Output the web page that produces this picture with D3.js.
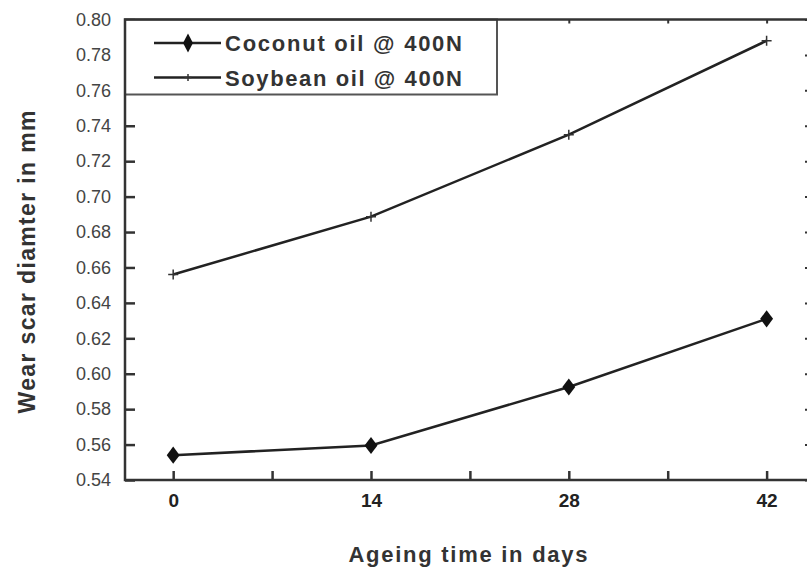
<!DOCTYPE html>
<meta charset="utf-8">
<head>
<style>
  body { margin: 0; background: #fff; }
  text { font-family: "Liberation Sans", Arial, sans-serif; }
</style>
</head>
<script src="https://d3js.org/d3.v7.min.js"></script>
<body>
<div id="my_dataviz"></div>
<script>
// data
var days = [0, 14, 28, 42];
var coconut = [0.554, 0.5595, 0.5925, 0.631];
var soybean = [0.656, 0.6887, 0.735, 0.788];
var xTicks = [0, 7, 14, 21, 28, 35, 42];
var xLabels = [0, 14, 28, 42];
var yTicks = [0.54, 0.56, 0.58, 0.60, 0.62, 0.64, 0.66, 0.68, 0.70, 0.72, 0.74, 0.76, 0.78, 0.80];
var seriesNames = ["Coconut oil @ 400N", "Soybean oil @ 400N"];

var W = 807, H = 569;
var margin = {top: 19.5, right: -2, bottom: 89, left: 125},
    width = W - margin.left - margin.right,
    height = H - margin.top - margin.bottom;

var svg = d3.select("#my_dataviz")
  .append("svg")
    .attr("width", W)
    .attr("height", H);

var g = svg.append("g")
    .attr("transform", "translate(" + margin.left + "," + margin.top + ")");

var x = d3.scaleLinear().domain([-3.41, 45.0]).range([0, width]);
var y = d3.scaleLinear().domain([0.54, 0.80]).range([height, 0]);

// bottom axis - ticks inward
var xAxis = g.append("g")
  .attr("transform", "translate(0," + height + ")")
  .call(d3.axisBottom(x).tickValues(xTicks).tickSizeInner(-9).tickSizeOuter(0)
        .tickFormat(function(d) { return xLabels.indexOf(d) >= 0 ? d : ""; }));
xAxis.select(".domain").remove();
xAxis.selectAll("line").attr("stroke", "#333").attr("stroke-width", 2.5);
xAxis.selectAll("text")
  .attr("y", 14).attr("font-size", 19).attr("font-weight", "bold")
  .attr("fill", "#222").style("font-family", "Liberation Sans, Arial");

// top axis - small ticks
var xTop = g.append("g")
  .call(d3.axisTop(x).tickValues(xTicks).tickSizeInner(-4).tickSizeOuter(0).tickFormat(""));
xTop.select(".domain").remove();
xTop.selectAll("line").attr("stroke", "#333").attr("stroke-width", 2);

// left axis
var yAxis = g.append("g")
  .call(d3.axisLeft(y).tickValues(yTicks).tickSizeInner(-10).tickSizeOuter(0)
        .tickFormat(d3.format(".2f")));
yAxis.select(".domain").remove();
yAxis.selectAll("line").attr("stroke", "#333").attr("stroke-width", 2.5);
yAxis.selectAll("text")
  .attr("x", -14).attr("font-size", 18).attr("fill", "#444")
  .style("font-family", "Liberation Sans, Arial");

// right axis - small ticks
var yRight = g.append("g")
  .attr("transform", "translate(" + width + ",0)")
  .call(d3.axisRight(y).tickValues(yTicks).tickSizeInner(-4).tickSizeOuter(0).tickFormat(""));
yRight.select(".domain").remove();
yRight.selectAll("line").attr("stroke", "#333").attr("stroke-width", 2);

// lines
var line = d3.line()
  .x(function(d) { return x(d[0]); })
  .y(function(d) { return y(d[1]); });

var cocoPts = days.map(function(d, i) { return [d, coconut[i]]; });
var soyPts = days.map(function(d, i) { return [d, soybean[i]]; });

g.append("path").datum(cocoPts).attr("d", line)
  .attr("fill", "none").attr("stroke", "#222").attr("stroke-width", 2.5);
g.append("path").datum(soyPts).attr("d", line)
  .attr("fill", "none").attr("stroke", "#222").attr("stroke-width", 2.5);

var diamond = d3.symbol().type(d3.symbolDiamond).size(85);
g.selectAll(".dia").data(cocoPts).enter().append("path")
  .attr("class", "dia")
  .attr("d", diamond)
  .attr("transform", function(d) { return "translate(" + x(d[0]) + "," + y(d[1]) + ") scale(1.3,1)"; })
  .attr("fill", "#111");

function plus(sel, cx, cy, s) {
  sel.append("path")
    .attr("d", "M" + (cx - s) + "," + cy + "H" + (cx + s) + "M" + cx + "," + (cy - s) + "V" + (cy + s))
    .attr("stroke", "#333").attr("stroke-width", 1.5).attr("fill", "none");
}
soyPts.forEach(function(d) { plus(g, x(d[0]), y(d[1]), 5); });

// legend
var leg = g.append("g");
leg.append("rect")
  .attr("x", 0).attr("y", 0).attr("width", 372).attr("height", 75)
  .attr("fill", "#fff").attr("stroke", "#555").attr("stroke-width", 2);

// frame
g.append("rect")
  .attr("width", width).attr("height", height)
  .attr("fill", "none").attr("stroke", "#333").attr("stroke-width", 2.5);

var rows = [23.5, 58];
seriesNames.forEach(function(name, i) {
  var ry = rows[i];
  leg.append("line")
    .attr("x1", 29).attr("x2", 96).attr("y1", ry).attr("y2", ry)
    .attr("stroke", "#222").attr("stroke-width", 2.5);
  if (i === 0) {
    leg.append("path").attr("d", diamond)
      .attr("transform", "translate(63," + ry + ") scale(1.0,1.1)")
      .attr("fill", "#111");
  } else {
    plus(leg, 63, ry, 3.5);
  }
  leg.append("text")
    .attr("x", 100).attr("y", ry + 8)
    .attr("font-size", 22).attr("font-weight", "bold").attr("fill", "#333")
    .attr("textLength", 237).attr("lengthAdjust", "spacing")
    .text(name);
});

// axis titles
svg.append("text")
  .attr("x", 468).attr("y", 562)
  .attr("text-anchor", "middle")
  .attr("font-size", 22).attr("font-weight", "bold").attr("fill", "#333")
  .attr("textLength", 239).attr("lengthAdjust", "spacing")
  .text("Ageing time in days");

svg.append("text")
  .attr("transform", "translate(35,262) rotate(-90)")
  .attr("text-anchor", "middle")
  .attr("font-size", 23).attr("font-weight", "bold").attr("fill", "#333")
  .attr("textLength", 303).attr("lengthAdjust", "spacing")
  .text("Wear scar diamter in mm");
</script>
</body>
